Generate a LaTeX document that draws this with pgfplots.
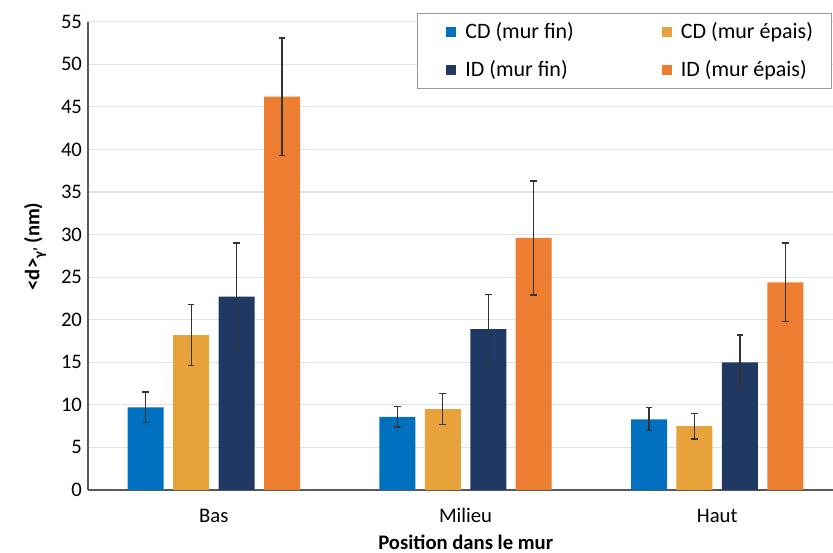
\documentclass[border=0pt]{standalone}
\usepackage{pgfplots}
\pgfplotsset{compat=1.18}
\usepackage{fontspec}
\setmainfont{Carlito}
\definecolor{cdfin}{HTML}{0070C0}
\definecolor{cdep}{HTML}{E8A23A}
\definecolor{idfin}{HTML}{203864}
\definecolor{idep}{HTML}{ED7D31}
\definecolor{axgray}{HTML}{595959}
\definecolor{grid}{HTML}{E3E3E3}
\newcommand{\fs}{\fontsize{15.5}{18}\selectfont}
\newcommand{\fl}{\fontsize{16.5}{19}\selectfont}
\begin{document}
\begin{tikzpicture}[x=1pt,y=1pt]
\path[use as bounding box] (-66pt,-47.25pt) rectangle (558.75pt,367.5pt);
\begin{axis}[
  at={(0,0)}, anchor=south west,
  scale only axis,
  width=558.75pt, height=351.2pt,
  xmin=-0.5, xmax=2.46,
  ymin=0, ymax=55,
  ytick={0,5,...,55},
  xtick={0,1,2},
  xticklabels={Bas,Milieu,Haut},
  axis x line*=bottom, axis y line*=left,
  axis line style={draw=axgray, line width=1.1pt, -},
  major tick length=0pt,
  ymajorgrids, grid style={draw=grid, line width=0.8pt},
  font=\fs,
  /pgf/number format/assume math mode=true,
  yticklabel style={font=\fs, xshift=-1pt},
  xticklabel style={font=\fs, anchor=base, yshift=-24.75pt},
  xlabel={\bfseries Position dans le mur},
  xlabel style={at={(axis description cs:0.507,-0.126)}, anchor=base},
  ylabel={\bfseries <d>\raisebox{-0.45ex}{\fontsize{11}{12}\selectfont γ'} (nm)},
  ylabel style={at={(axis description cs:-0.071,0.52)}, anchor=center},
  ybar=7.1pt, bar width=27pt,
  legend columns=2,
  legend style={at={(axis description cs:0.9987,1.0186)}, anchor=north east,
    draw=gray!80, line width=0.6pt, fill=white,
    font=\fl,
    nodes={inner xsep=0pt, inner ysep=0pt},
    inner xsep=14pt, inner ysep=7pt, row sep=15pt,
    /tikz/every odd column/.append style={column sep=6.75pt},
    /tikz/every even column/.append style={column sep=58.5pt}},
  legend cell align=left,
  legend image code/.code={\path (0pt,0pt); \fill[#1,draw=none] (7.5pt,-3.75pt) rectangle (15pt,3.75pt);},
  error bars/y dir=both, error bars/y explicit,
  error bars/error bar style={draw=black!80, line width=0.9pt},
  error bars/error mark options={draw=black!80, line width=0.9pt, mark size=2.5pt, rotate=90},
]
\addplot[fill=cdfin, draw=none] coordinates {(0,9.7) +- (0,1.8) (1,8.6) +- (0,1.2) (2,8.3) +- (0,1.35)};
\addlegendentry{CD (mur fin)}
\addplot[fill=cdep, draw=none] coordinates {(0,18.2) +- (0,3.6) (1,9.5) +- (0,1.8) (2,7.5) +- (0,1.5)};
\addlegendentry{CD (mur épais)}
\addplot[fill=idfin, draw=none] coordinates {(0,22.7) +- (0,6.3) (1,18.9) +- (0,4.1) (2,15.0) +- (0,3.2)};
\addlegendentry{ID (mur fin)}
\addplot[fill=idep, draw=none] coordinates {(0,46.2) +- (0,6.9) (1,29.6) +- (0,6.7) (2,24.4) +- (0,4.6)};
\addlegendentry{ID (mur épais)}
\end{axis}
\end{tikzpicture}
\end{document}
